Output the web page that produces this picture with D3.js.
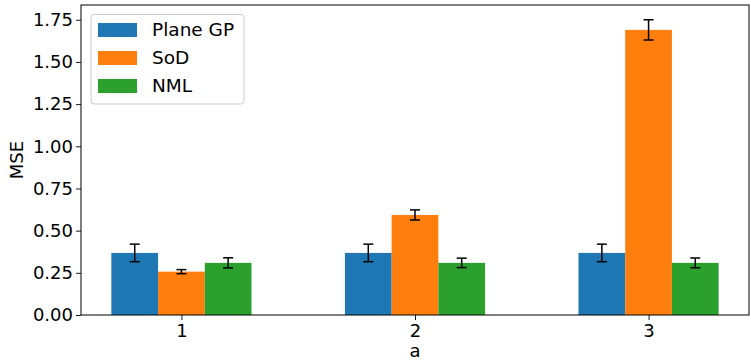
<!DOCTYPE html>
<html>
<head>
<meta charset="utf-8">
<script src="https://cdn.jsdelivr.net/npm/d3@7"></script>
<style>
  html, body { margin: 0; padding: 0; background: #fff; }
  svg { display: block; font-family: "DejaVu Sans", sans-serif; }
</style>
</head>
<body>
<svg id="chart" width="751" height="364"></svg>
<script>
// Categories and series (mean MSE with error-bar half widths)
const categories = ["1", "2", "3"];
const seriesNames = ["Plane GP", "SoD", "NML"];
const seriesColors = ["#1f77b4", "#ff7f0e", "#2ca02c"];
const planeGP = [0.368, 0.368, 0.368];
const planeGPErr = [0.052, 0.052, 0.052];
const sod = [0.257, 0.593, 1.690];
const sodErr = [0.012, 0.030, 0.060];
const nml = [0.309, 0.309, 0.309];
const nmlErr = [0.030, 0.028, 0.029];
const yTicks = [0, 0.25, 0.5, 0.75, 1.0, 1.25, 1.5, 1.75];

const values = [planeGP, sod, nml];
const errors = [planeGPErr, sodErr, nmlErr];

const svg = d3.select("#chart");
const plotLeft = 81, plotRight = 749, plotTop = 5, plotBottom = 315;
const barW = 0.2;
const fontSize = 18;

// Numeric x axis: category i at position i+1, bars offset by ±0.2
const x = d3.scaleLinear().domain([0.57, 3.43]).range([plotLeft, plotRight]);
const y = d3.scaleLinear().domain([0, 1.8375]).range([plotBottom, plotTop]);

const g = svg.append("g");

// Bars
values.forEach((vals, s) => {
  const off = (s - 1) * barW;
  g.selectAll(null)
    .data(vals)
    .enter()
    .append("rect")
    .attr("x", (d, i) => x(i + 1 + off - barW / 2))
    .attr("width", (d, i) => x(i + 1 + off + barW / 2) - x(i + 1 + off - barW / 2))
    .attr("y", d => y(d))
    .attr("height", d => y(0) - y(d))
    .attr("fill", seriesColors[s]);
});

// Error bars
values.forEach((vals, s) => {
  const off = (s - 1) * barW;
  vals.forEach((v, i) => {
    const cx = x(i + 1 + off);
    const e = errors[s][i];
    const eg = g.append("g").attr("stroke", "#000").attr("stroke-width", 1.5);
    eg.append("line").attr("x1", cx).attr("x2", cx).attr("y1", y(v - e)).attr("y2", y(v + e));
    [v - e, v + e].forEach(t => {
      eg.append("line").attr("x1", cx - 5).attr("x2", cx + 5).attr("y1", y(t)).attr("y2", y(t));
    });
  });
});

// Axes
const yAxis = d3.axisLeft(y).tickValues(yTicks).tickFormat(d3.format(".2f")).tickSize(5).tickPadding(3);
const xAxis = d3.axisBottom(x).tickValues([1, 2, 3]).tickFormat((d, i) => categories[i]).tickSize(5).tickPadding(4);

const ya = svg.append("g").attr("transform", `translate(${plotLeft},0)`).call(yAxis);
const xa = svg.append("g").attr("transform", `translate(0,${plotBottom})`).call(xAxis);
[ya, xa].forEach(a => {
  a.select(".domain").remove();
  a.selectAll("text").attr("font-size", fontSize).attr("fill", "#000").attr("font-family", "DejaVu Sans, sans-serif");
  a.selectAll("line").attr("stroke", "#000").attr("stroke-width", 0.9);
});

// Spines
svg.append("rect")
  .attr("x", plotLeft).attr("y", plotTop)
  .attr("width", plotRight - plotLeft).attr("height", plotBottom - plotTop)
  .attr("fill", "none").attr("stroke", "#000").attr("stroke-width", 1);

// Axis labels
svg.append("text")
  .attr("transform", `translate(23,${(plotTop + plotBottom) / 2}) rotate(-90)`)
  .attr("text-anchor", "middle")
  .attr("font-size", fontSize)
  .text("MSE");
svg.append("text")
  .attr("x", (plotLeft + plotRight) / 2).attr("y", 357)
  .attr("text-anchor", "middle")
  .attr("font-size", fontSize)
  .text("a");

// Legend
const lg = svg.append("g");
lg.append("rect")
  .attr("x", 91).attr("y", 14.5).attr("width", 153).attr("height", 89.5)
  .attr("rx", 3)
  .attr("fill", "#fff").attr("fill-opacity", 0.8)
  .attr("stroke", "#ccc").attr("stroke-width", 1);
seriesNames.forEach((name, i) => {
  const cy = 30 + i * 28;
  lg.append("rect")
    .attr("x", 98).attr("y", cy - 7).attr("width", 39).attr("height", 14)
    .attr("fill", seriesColors[i]);
  lg.append("text")
    .attr("x", 152).attr("y", cy).attr("dy", "0.35em")
    .attr("font-size", fontSize + 0.5)
    .text(name);
});
</script>
</body>
</html>
